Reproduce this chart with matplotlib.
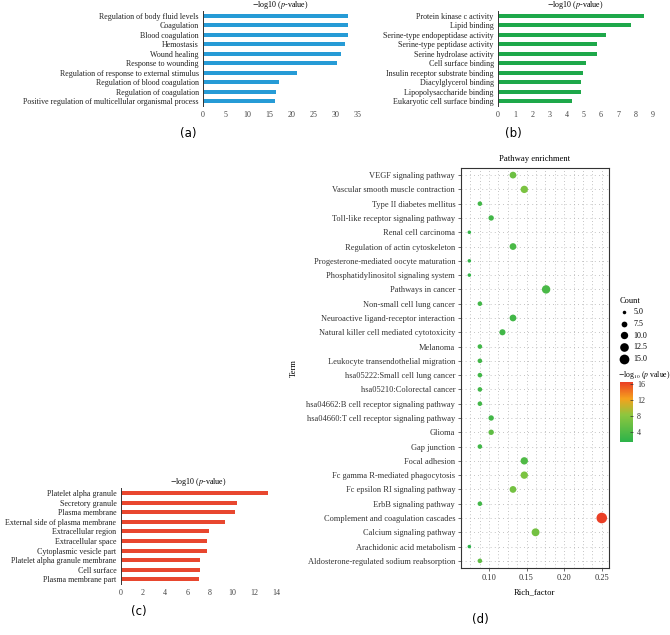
import numpy as np
import matplotlib
matplotlib.use("Agg")
import matplotlib.pyplot as plt
from matplotlib.colors import LinearSegmentedColormap, Normalize

plt.rcParams['font.family'] = ['Liberation Serif', 'DejaVu Serif']
plt.rcParams['mathtext.fontset'] = 'stix'

# (a) biological process
bp_terms = ["Regulation of body fluid levels", "Coagulation", "Blood coagulation",
            "Hemostasis", "Wound healing", "Response to wounding",
            "Regulation of response to external stimulus", "Regulation of blood coagulation",
            "Regulation of coagulation", "Positive regulation of multicellular organismal process"]
bp_vals = [32.9, 32.8, 32.8, 32.2, 31.2, 30.2, 21.2, 17.1, 16.5, 16.3]

# (b) molecular function
mf_terms = ["Protein kinase c activity", "Lipid binding", "Serine-type endopeptidase activity",
            "Serine-type peptidase activity", "Serine hydrolase activity", "Cell surface binding",
            "Insulin receptor substrate binding", "Diacylglycerol binding",
            "Lipopolysaccharide binding", "Eukaryotic cell surface binding"]
mf_vals = [8.5, 7.75, 6.28, 5.79, 5.75, 5.13, 4.94, 4.86, 4.82, 4.3]

# (c) cellular component
cc_terms = ["Platelet alpha granule", "Secretory granule", "Plasma membrane",
            "External side of plasma membrane", "Extracellular region", "Extracellular space",
            "Cytoplasmic vesicle part", "Platelet alpha granule membrane", "Cell surface",
            "Plasma membrane part"]
cc_vals = [13.2, 10.4, 10.25, 9.4, 7.92, 7.77, 7.77, 7.1, 7.08, 7.0]

# (d) KEGG pathway enrichment
kegg_terms = ["VEGF signaling pathway", "Vascular smooth muscle contraction",
              "Type II diabetes mellitus", "Toll-like receptor signaling pathway",
              "Renal cell carcinoma", "Regulation of actin cytoskeleton",
              "Progesterone-mediated oocyte maturation", "Phosphatidylinositol signaling system",
              "Pathways in cancer", "Non-small cell lung cancer",
              "Neuroactive ligand-receptor interaction", "Natural killer cell mediated cytotoxicity",
              "Melanoma", "Leukocyte transendothelial migration",
              "hsa05222:Small cell lung cancer", "hsa05210:Colorectal cancer",
              "hsa04662:B cell receptor signaling pathway", "hsa04660:T cell receptor signaling pathway",
              "Glioma", "Gap junction", "Focal adhesion", "Fc gamma R-mediated phagocytosis",
              "Fc epsilon RI signaling pathway", "ErbB signaling pathway",
              "Complement and coagulation cascades", "Calcium signaling pathway",
              "Arachidonic acid metabolism", "Aldosterone-regulated sodium reabsorption"]
rich = [0.132, 0.147, 0.088, 0.103, 0.074, 0.132, 0.074, 0.074, 0.176, 0.088,
        0.132, 0.118, 0.088, 0.088, 0.088, 0.088, 0.088, 0.103, 0.103, 0.088,
        0.147, 0.147, 0.132, 0.088, 0.25, 0.162, 0.074, 0.088]
counts = [9, 10, 6, 7, 5, 9, 5, 5, 12, 6, 9, 8, 6, 6, 6, 6, 6, 7, 7, 6,
          10, 10, 9, 6, 17, 11, 5, 6]
logp = [6.0, 7.0, 3.0, 3.0, 2.0, 3.5, 2.0, 2.0, 3.5, 3.0, 3.0, 3.0, 3.0, 3.0,
        3.0, 3.0, 3.0, 3.0, 5.0, 3.0, 4.0, 7.0, 6.5, 3.0, 16.6, 6.5, 1.4, 5.0]

fig = plt.figure(figsize=(6.7, 6.35), dpi=100)


def bar_panel(rect, terms, vals, color, xmax, step, tag, tag_x):
    ax = fig.add_axes(rect)
    y = np.arange(len(terms))
    ax.barh(y, vals, height=0.42, color=color)
    ax.set_ylim(len(terms) - 0.5, -0.5)
    ax.set_xlim(0, xmax)
    ax.set_yticks(y)
    ax.set_yticklabels(terms, fontsize=5.8)
    ax.set_xticks(np.arange(0, xmax + 0.01, step))
    ax.tick_params(axis='both', length=0, labelsize=5.8, colors='#444444')
    ax.tick_params(axis='y', pad=3, colors='#222222')
    for s in ['top', 'right', 'bottom']:
        ax.spines[s].set_visible(False)
    ax.spines['left'].set_color('#333333')
    ax.spines['left'].set_linewidth(0.7)
    ax.set_title("$-$log10 ($p$-value)", fontsize=5.8, pad=3)
    fig.text(tag_x, rect[1] - 0.048, tag, fontsize=8.5, family='DejaVu Sans', ha='center')
    return ax


bar_panel([0.303, 0.833, 0.231, 0.150], bp_terms, bp_vals, '#269bd6', 35, 5, '(a)', 188 / 670)
bar_panel([0.743, 0.833, 0.231, 0.150], mf_terms, mf_vals, '#1ea84a', 9, 1, '(b)', 513 / 670)
bar_panel([0.180, 0.080, 0.233, 0.151], cc_terms, cc_vals, '#e8472f', 14, 2, '(c)', 139 / 670)

# (d) bubble chart
cmap = LinearSegmentedColormap.from_list(
    'enrich', [(0.0, '#2cb34a'), (0.45, '#8dc63f'), (0.72, '#f5a21d'), (1.0, '#ea3f26')])
norm = Normalize(vmin=1.4, vmax=16.6)


def bubble_size(c):
    return np.asarray(c, dtype=float) * 4.3 - 15.0


ax = fig.add_axes([0.6876, 0.1055, 0.2209, 0.630])
yd = np.arange(len(kegg_terms))
ax.scatter(rich, yd, s=bubble_size(counts), c=logp, cmap=cmap, norm=norm, zorder=3, linewidths=0)
ax.set_xlim(0.0645, 0.2592)
ax.set_ylim(len(kegg_terms) - 0.5, -0.5)
ax.set_yticks(yd)
ax.set_yticklabels(kegg_terms, fontsize=6.2)
ax.set_xticks([0.10, 0.15, 0.20, 0.25])
ax.set_xticklabels(['0.10', '0.15', '0.20', '0.25'])
ax.set_xticks(np.arange(0.0625, 0.26, 0.0125), minor=True)
ax.tick_params(axis='both', length=2, width=0.5, labelsize=6.0, colors='#333333', pad=2)
ax.tick_params(axis='x', which='minor', length=0)
ax.grid(True, which='both', axis='x', linestyle=(0, (1, 3)), color='#b0b0b0', linewidth=0.6)
ax.grid(True, which='major', axis='y', linestyle=(0, (1, 4)), color='#b0b0b0', linewidth=0.6)
ax.set_axisbelow(True)
for s in ax.spines.values():
    s.set_color('#333333')
    s.set_linewidth(0.8)
ax.set_title("Pathway enrichment", fontsize=6.2, pad=5)
ax.set_xlabel("Rich_factor", fontsize=6.2, labelpad=5)
ax.set_ylabel("Term", fontsize=6.2, labelpad=6)
fig.text(480 / 670, 1 - 623 / 635, '(d)', fontsize=8.5, family='DejaVu Sans', ha='center')

# size legend
leg_counts = [5.0, 7.5, 10.0, 12.5, 15.0]
handles = [ax.scatter([], [], s=bubble_size(c), color='black', linewidths=0) for c in leg_counts]
fig.legend(handles, ['%.1f' % c for c in leg_counts], title='Count', loc='upper left',
           bbox_to_anchor=(614 / 670, 1 - 291 / 635), frameon=False, fontsize=5.8,
           title_fontsize=6.0, labelspacing=0.45, handletextpad=0.5, borderpad=0.2,
           handlelength=1.2, alignment='left')

# colour bar
cax = fig.add_axes([620 / 670, 1 - 442 / 635, 12.7 / 670, 60 / 635])
cb = fig.colorbar(plt.cm.ScalarMappable(norm=norm, cmap=cmap), cax=cax)
cb.set_ticks([4, 8, 12, 16])
cb.outline.set_visible(False)
cax.tick_params(length=2, width=0.5, labelsize=5.8, colors='#333333', direction='in', pad=3)
for t in cax.yaxis.get_ticklines():
    t.set_color('white')
fig.text(618 / 670, 1 - 375 / 635, "$-$log$_{10}$ ($p$ value)", fontsize=5.6, va='center')

fig.savefig('out.png', dpi=100)
